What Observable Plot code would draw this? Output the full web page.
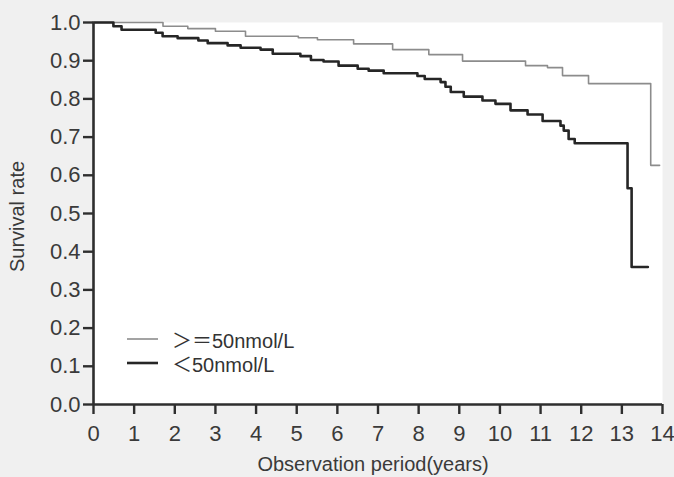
<!DOCTYPE html>
<html>
<head>
<meta charset="utf-8">
<script src="https://cdn.jsdelivr.net/npm/d3@7"></script>
<script src="https://cdn.jsdelivr.net/npm/@observablehq/plot@0.6"></script>
<style>
html, body { margin: 0; padding: 0; background: #f0f0f0; }
#chart { position: relative; width: 674px; height: 477px; }
#chart svg text { font-size: 20px; font-family: "Liberation Sans", Arial, "Noto Sans CJK JP", sans-serif; }
#chart svg g[aria-label="x-axis tick label"] text, #chart svg g[aria-label="y-axis tick label"] text { font-size: 22px; }
#legend { position: absolute; left: 127px; top: 327px; font-family: "Liberation Sans", Arial, "Noto Sans CJK JP", sans-serif; font-size: 20px; color: #333; }
#legend .row { display: flex; align-items: center; height: 24px; }
#legend svg { width: 32px; height: 24px; margin-right: 13px; }
</style>
</head>
<body>
<div id="chart"><div id="legend"></div></div>
<script>
// Series labels
const seriesNames = ["＞＝50nmol/L", "＜50nmol/L"];
const seriesColors = ["#8c8c8c", "#262626"];
const seriesWidths = [1.6, 2.6];

// >=50 nmol/L group (step-after survival estimates)
const highTime = [0, 1.71, 2.32, 3.00, 3.74, 5.04, 5.51, 6.40, 7.36, 8.25, 9.08, 10.63, 11.17, 11.54, 12.18, 13.71, 13.93];
const highSurv = [1.0, 0.990, 0.984, 0.977, 0.964, 0.960, 0.955, 0.944, 0.929, 0.916, 0.899, 0.887, 0.882, 0.861, 0.840, 0.626, 0.626];

// <50 nmol/L group
const lowTime = [0, 0.49, 0.69, 1.53, 1.70, 2.07, 2.58, 2.81, 3.30, 3.62, 4.11, 4.41, 5.09, 5.35, 5.66, 6.03, 6.50, 6.77, 7.14, 7.97, 8.15, 8.54, 8.66, 8.79, 9.11, 9.57, 9.89, 10.26, 10.68, 11.05, 11.49, 11.57, 11.69, 11.84, 13.14, 13.24, 13.64];
const lowSurv = [1.0, 0.990, 0.981, 0.973, 0.964, 0.959, 0.953, 0.946, 0.940, 0.934, 0.929, 0.918, 0.912, 0.902, 0.898, 0.887, 0.879, 0.874, 0.867, 0.860, 0.852, 0.844, 0.832, 0.818, 0.806, 0.796, 0.787, 0.770, 0.759, 0.742, 0.730, 0.717, 0.695, 0.684, 0.566, 0.360, 0.360];

// Ticks and titles
const xTicks = [0, 1, 2, 3, 4, 5, 6, 7, 8, 9, 10, 11, 12, 13, 14];
const yTicks = [0, 0.1, 0.2, 0.3, 0.4, 0.5, 0.6, 0.7, 0.8, 0.9, 1.0];
const xTitle = "Observation period(years)";
const yTitle = "Survival rate";

const high = highTime.map((t, i) => ({t, s: highSurv[i], g: seriesNames[0]}));
const low = lowTime.map((t, i) => ({t, s: lowSurv[i], g: seriesNames[1]}));

const font = '"Liberation Sans", Arial, "Noto Sans CJK JP", sans-serif';
const axisColor = "#2e2e2e";

const chart = Plot.plot({
  width: 674,
  height: 477,
  marginLeft: 93,
  marginRight: 12,
  marginTop: 22,
  marginBottom: 73,
  style: {background: "transparent", fontFamily: font, fontSize: "20px", color: "#3a3a3a"},
  x: {domain: [0, 14]},
  y: {domain: [0, 1]},
  marks: [
    Plot.frame({fill: "white", stroke: null}),
    Plot.line(high, {x: "t", y: "s", curve: "step-after", stroke: seriesColors[0], strokeWidth: seriesWidths[0]}),
    Plot.line(low, {x: "t", y: "s", curve: "step-after", stroke: seriesColors[1], strokeWidth: seriesWidths[1]}),
    Plot.ruleX([0], {stroke: axisColor, strokeWidth: 2.6}),
    Plot.ruleY([0], {stroke: axisColor, strokeWidth: 2.6}),
    Plot.axisX({ticks: xTicks, tickSize: 10, tickPadding: 11, tickFormat: d3.format("d"), label: null, stroke: axisColor, strokeWidth: 2.4}),
    Plot.axisY({ticks: yTicks, tickSize: 10, tickPadding: 3, tickFormat: d3.format(".1f"), label: null, stroke: axisColor, strokeWidth: 2.4}),
    Plot.text([xTitle], {text: d => d, frameAnchor: "bottom", lineAnchor: "middle", textAnchor: "middle", dy: 60, dx: -5}),
    Plot.text([yTitle], {text: d => d, frameAnchor: "left", lineAnchor: "middle", textAnchor: "middle", rotate: -90, dx: -76, dy: 3})
  ]
});
document.getElementById("chart").prepend(chart);

const legend = document.getElementById("legend");
seriesNames.forEach((name, i) => {
  const row = document.createElement("div");
  row.className = "row";
  row.innerHTML = `<svg viewBox="0 0 32 24"><line x1="0" x2="31" y1="12" y2="12" stroke="${seriesColors[i]}" stroke-width="${seriesWidths[i]}"/></svg><span>${name}</span>`;
  legend.appendChild(row);
});
</script>
</body>
</html>
